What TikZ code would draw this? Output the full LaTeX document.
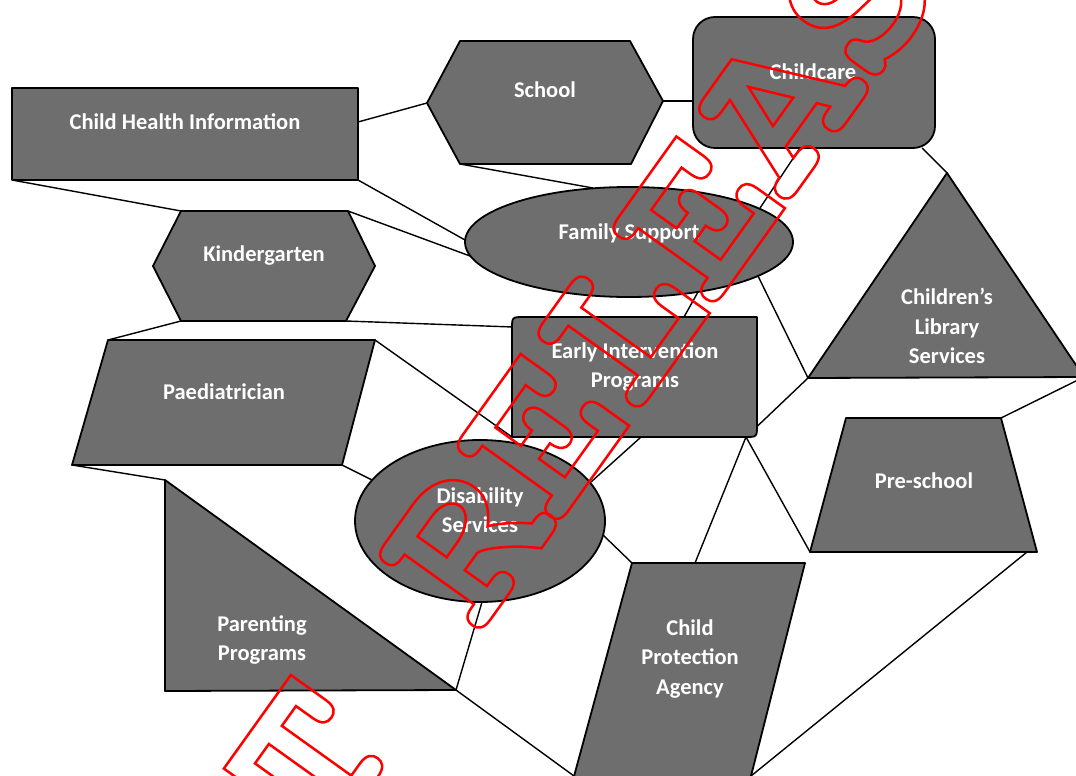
\documentclass[tikz,border=0pt]{standalone}
\usepackage{fontspec}
\setmainfont{Carlito}
\newfontfamily\stampfont{TeX Gyre Cursor}
\definecolor{boxgray}{RGB}{110,110,110}
\definecolor{stampred}{RGB}{255,0,0}
% hollow letters: stroke the glyph outlines only
\newcommand\hollow[1]{\special{pdf:literal direct 1 Tr 2.5 w 1 0 0 RG}#1\special{pdf:literal direct 0 Tr}}

\begin{document}
\begin{tikzpicture}[x=1pt, y=-1pt,
    block/.style={fill=boxgray, draw=black, line width=1.8pt, line join=round},
    link/.style={draw=black, line width=1.4pt},
    lbl/.style={text=white, font=\fontsize{22.5}{29.5}\selectfont\bfseries, align=center, inner sep=0pt}]

    \useasboundingbox (0,0) rectangle (1076,776);
    \clip (0,0) rectangle (1076,776);

    % points where the lines meet the shapes
    \coordinate (chi-e) at (358,122);
    \coordinate (chi-se) at (358,180);
    \coordinate (chi-sw) at (12,180);
    \coordinate (sch-w) at (427,103);
    \coordinate (sch-e) at (663,101);
    \coordinate (sch-sw) at (460,164);
    \coordinate (care-w) at (693,101);
    \coordinate (care-s) at (800,148);
    \coordinate (care-se) at (922,148);
    \coordinate (kin-nw) at (181,211);
    \coordinate (kin-ne) at (348,211);
    \coordinate (kin-sw) at (181,321);
    \coordinate (kin-se) at (346,321);
    \coordinate (fam-n) at (593,188);
    \coordinate (fam-w) at (465,240);
    \coordinate (fam-wsw) at (470,256);
    \coordinate (fam-ne) at (760,208);
    \coordinate (fam-se) at (758,276);
    \coordinate (fam-s) at (698,292);
    \coordinate (lib-n) at (947,173);
    \coordinate (lib-sw) at (808,378);
    \coordinate (lib-se) at (1084,377);
    \coordinate (eip-w) at (513,327);
    \coordinate (eip-n) at (684,317);
    \coordinate (eip-sw) at (512,437);
    \coordinate (eip-s) at (641,437);
    \coordinate (eip-se) at (746,437);
    \coordinate (paed-nw) at (108,340);
    \coordinate (paed-ne) at (375,340);
    \coordinate (paed-se) at (342,465);
    \coordinate (paed-sw) at (72,465);
    \coordinate (dis-nw) at (372,480);
    \coordinate (dis-ne) at (591,482);
    \coordinate (dis-e) at (603,535);
    \coordinate (dis-s) at (482,602);
    \coordinate (par-n) at (165,480);
    \coordinate (par-se) at (456,690);
    \coordinate (pre-ne) at (1001,418);
    \coordinate (pre-sw) at (810,552);
    \coordinate (pre-s) at (1027,552);
    \coordinate (cpa-nw) at (632,563);
    \coordinate (cpa-n) at (695,563);
    \coordinate (cpa-sw) at (574,776);
    \coordinate (cpa-se) at (751,776);

    % lines
    \draw[link] (chi-e) -- (sch-w);
    \draw[link] (sch-sw) -- (fam-n);
    \draw[link] (sch-e) -- (care-w);
    \draw[link] (chi-se) -- (fam-w);
    \draw[link] (chi-sw) -- (kin-nw);
    \draw[link] (kin-ne) -- (fam-wsw);
    \draw[link] (kin-sw) -- (paed-nw);
    \draw[link] (kin-se) -- (eip-w);
    \draw[link] (paed-ne) -- (eip-sw);
    \draw[link] (paed-se) -- (dis-nw);
    \draw[link] (paed-sw) -- (par-n);
    \draw[link] (dis-s) -- (par-se);
    \draw[link] (par-se) -- (cpa-sw);
    \draw[link] (dis-e) -- (cpa-nw);
    \draw[link] (dis-ne) -- (eip-s);
    \draw[link] (eip-se) -- (lib-sw);
    \draw[link] (eip-se) -- (cpa-n);
    \draw[link] (eip-se) -- (pre-sw);
    \draw[link] (fam-se) -- (lib-sw);
    \draw[link] (fam-ne) -- (care-s);
    \draw[link] (fam-s) -- (eip-n);
    \draw[link] (care-se) -- (lib-n);
    \draw[link] (lib-se) -- (pre-ne);
    \draw[link] (pre-s) -- (cpa-se);

    % shapes
    \path[block] (12,88) rectangle (358,180);
    \path[block] (427,103) -- (460,41) -- (630,41) -- (663,101) -- (631,164) -- (460,164) -- cycle;
    \path[block, rounded corners=22] (693,17) rectangle (935,148);
    \path[block] (153,266) -- (181,211) -- (348,211) -- (375,266) -- (346,321) -- (181,321) -- cycle;
    \path[block] (629,242) ellipse [x radius=164, y radius=55];
    \path[block] (947,173) -- (1084,377) -- (808,378) -- cycle;
    \path[block] (512,437) -- (512,329) .. controls (512,317) .. (524,317) -- (757,317)
        -- (757,425) .. controls (757,437) .. (745,437) -- cycle;
    \path[block] (108,340) -- (375,340) -- (342,465) -- (72,465) -- cycle;
    \path[block] (480,521) ellipse [x radius=125, y radius=81];
    \path[block] (165,480) -- (456,690) -- (165,691) -- cycle;
    \path[block] (846,418) -- (1001,418) -- (1037,552) -- (810,552) -- cycle;
    \path[block] (632,563) -- (805,563) -- (750,780) -- (573,780) -- cycle;

    % labels
    \node[lbl] (chi) at (185,122) {Child Health Information};
    \node[lbl] (school) at (545,90) {School};
    \node[lbl] (care) at (813,72) {Childcare};
    \node[lbl] (kin) at (264,256) {Kindergarten};
    \node[lbl] (fam) at (629,233) {Family Support};
    \node[lbl] (lib) at (947,326) {Children’s\\Library\\Services};
    \node[lbl] (eip) at (635,367) {Early Intervention\\Programs};
    \node[lbl] (paed) at (224,392) {Paediatrician};
    \node[lbl] (dis) at (480,510) {Disability\\Services};
    \node[lbl] (par) at (262,640) {Parenting\\Programs};
    \node[lbl] (pre) at (924,481) {Pre-school};
    \node[lbl] (cpa) at (690,659) {Child\\Protection\\Agency};

    % stamp across the page
    \node[rotate=54.4, anchor=base west, inner sep=0pt, font=\stampfont\bfseries\fontsize{223}{223}\selectfont] (stamp) at (324,852)
        {\hollow{T RELEASED}};
\end{tikzpicture}
\end{document}
